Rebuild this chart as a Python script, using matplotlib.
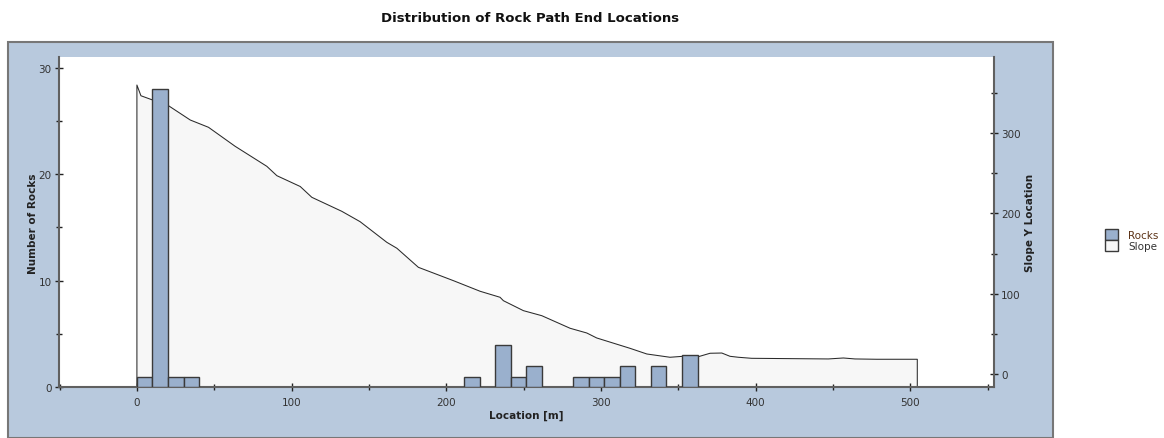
import numpy as np
import matplotlib
matplotlib.use("Agg")
import matplotlib.pyplot as plt
from matplotlib.patches import Patch, Rectangle
from matplotlib.ticker import MultipleLocator

# Histogramme des positions finales (50 classes sur la longueur de la pente)
bin_width = 10.07
rock_bins = [0, 1, 2, 3, 21, 23, 24, 25, 28, 29, 30, 31, 33, 35]
rock_counts = [1, 28, 1, 1, 1, 4, 1, 2, 1, 1, 1, 2, 2, 3]

# Profil de la pente (x en m, y en m)
slope_x = [0, 2.6, 9.7, 20.4, 34.5, 46.3, 63.5, 84.0, 90.5, 105.6, 113.1,
           132.5, 144.3, 161.6, 168.1, 182.0, 204.7, 221.9, 234.8, 237.0,
           249.9, 261.8, 280.1, 290.9, 297.3, 318.8, 329.7, 344.7, 353.1,
           363.0, 370.6, 378.2, 383.5, 388.9, 397.5, 447.1, 456.8, 464.3,
           478.4, 504.6]
slope_y = [360.4, 347, 342, 334.6, 316.7, 307.6, 283.9, 258.9, 247.2, 233.7,
           220.2, 202.7, 189.8, 164.0, 156.6, 132.8, 116.1, 102.9, 95.4, 91.1,
           78.7, 72.4, 56.7, 50.8, 44.6, 31.7, 24.6, 20.5, 21.7, 21.2, 25.5,
           25.8, 21.7, 20.5, 19.2, 18.4, 19.6, 18.4, 18.0, 18.0]

panel_col = "#b8c9dd"
bar_col = "#9ab0cd"
edge_col = "#3a3a3a"
axis_col = "#606060"
txt_col = "#333333"

W, H = 1164, 439
fig = plt.figure(figsize=(W / 100, H / 100), dpi=100)
fig.patch.set_facecolor("white")

# panneau bleu derrière le graphique
fig.patches.append(Rectangle((8 / W, 0), (1053 - 8) / W, (439 - 43) / H,
                             transform=fig.transFigure, facecolor=panel_col,
                             edgecolor="#777777", linewidth=1.5, zorder=-5))

ax = fig.add_axes([58.5 / W, (H - 388.3) / H, (994 - 58.5) / W, (388.3 - 58.3) / H])
ax2 = ax.twinx()
ax2.set_zorder(1)
ax.set_zorder(2)
ax.patch.set_visible(False)
ax2.patch.set_visible(True)
ax2.patch.set_facecolor("white")

# pente (axe de droite)
ybot = -17
xs = [slope_x[0]] + slope_x + [slope_x[-1]]
ys = [ybot] + slope_y + [ybot]
ax2.fill(xs, ys, facecolor="#f7f7f7", edgecolor="none", zorder=1)
ax2.plot(xs, ys, color="#2a2a2a", linewidth=0.75, zorder=2)
ax2.set_ylim(ybot, 395)

# roches (axe de gauche)
lefts = [b * bin_width for b in rock_bins]
ax.bar(lefts, rock_counts, width=bin_width, align="edge", color=bar_col,
       edgecolor=edge_col, linewidth=1.0, zorder=3)
ax.set_xlim(-50.7, 554.2)
ax.set_ylim(0, 30.97)

ax.xaxis.set_major_locator(MultipleLocator(100))
ax.xaxis.set_minor_locator(MultipleLocator(50))
ax.yaxis.set_major_locator(MultipleLocator(10))
ax.yaxis.set_minor_locator(MultipleLocator(5))
ax2.yaxis.set_major_locator(MultipleLocator(100))
ax2.yaxis.set_minor_locator(MultipleLocator(50))

for a in (ax, ax2):
    for s in a.spines.values():
        s.set_visible(False)
ax.spines["left"].set_visible(True)
ax.spines["bottom"].set_visible(True)
ax2.spines["right"].set_visible(True)
for s in (ax.spines["left"], ax.spines["bottom"], ax2.spines["right"]):
    s.set_color(axis_col)
    s.set_linewidth(1.5)

ax.tick_params(axis="both", which="major", direction="inout", length=6,
               width=1, color="#222222", labelsize=7.5, labelcolor=txt_col, pad=2)
ax.tick_params(axis="both", which="minor", direction="inout", length=5,
               width=1, color="#222222")
ax2.tick_params(axis="y", which="major", direction="inout", length=6,
                width=1, color="#222222", labelsize=7.5, labelcolor=txt_col, pad=2)
ax2.tick_params(axis="y", which="minor", direction="inout", length=5,
                width=1, color="#222222")
ax.tick_params(axis="x", pad=4)

ax.set_xlabel("Location [m]", fontsize=7.5, fontweight="bold", color="#222222", labelpad=2)
ax.set_ylabel("Number of Rocks", fontsize=7.5, fontweight="bold", color="#222222", labelpad=0)
ax2.set_ylabel("Slope Y Location", fontsize=7.5, fontweight="bold", color="#222222", labelpad=3)

fig.text(530 / W, 1 - 18 / H, "Distribution of Rock Path End Locations",
         ha="center", va="center", fontsize=9.5, fontweight="bold", color="#111111")

handles = [Patch(facecolor=bar_col, edgecolor=edge_col, linewidth=1.0),
           Patch(facecolor="#f7f7f7", edgecolor=edge_col, linewidth=1.0)]
leg = fig.legend(handles, ["Rocks", "Slope"], loc="center left",
                 bbox_to_anchor=(1100 / W, 1 - 241 / H), frameon=False,
                 fontsize=7.5, handlelength=1.2, handleheight=1.3,
                 labelspacing=0.0, handletextpad=1.0, borderpad=0)
leg.get_texts()[0].set_color("#5c3317")
leg.get_texts()[1].set_color(txt_col)

fig.savefig("out.png", dpi=100)
